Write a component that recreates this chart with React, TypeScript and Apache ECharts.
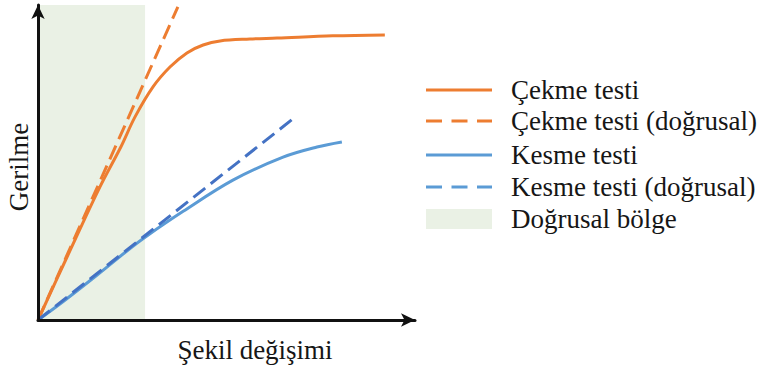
import React, { useEffect, useRef } from "react";
import * as echarts from "echarts";

const seriesNames = [
  "Çekme testi",
  "Çekme testi (doğrusal)",
  "Kesme testi",
  "Kesme testi (doğrusal)",
];
const areaName = "Doğrusal bölge";
const xAxisName = "Şekil değişimi";
const yAxisName = "Gerilme";

const tensile: [number, number][] = [
  [0, 0], [0.77, 2.0], [1.64, 4.22], [2.2, 5.5], [2.57, 6.44], [3.05, 7.4], [3.5, 8.03],
  [3.95, 8.48], [4.38, 8.73], [4.83, 8.86], [5.62, 8.92], [6.34, 8.95], [7.82, 9.02], [9.2, 9.05],
];
const tensileLinear: [number, number][] = [[0, 0], [3.71, 9.94]];
const shear: [number, number][] = [
  [0, 0], [0.66, 0.58], [1.56, 1.42], [2.44, 2.27], [2.84, 2.63], [3.85, 3.45], [5.17, 4.44],
  [6.5, 5.17], [7.4, 5.49], [8.06, 5.65],
];
const shearLinear: [number, number][] = [[0, 0], [6.82, 6.44]];
const linearRegion: [number, number] = [0, 2.84];

const colors = ["#ED7D31", "#ED7D31", "#5B9BD5", "#4472C4"];
const dashed = [false, true, false, true];
const FONT = "'Liberation Serif', 'Times New Roman', serif";

export default function App() {
  const ref = useRef<HTMLDivElement>(null);
  useEffect(() => {
    document.body.style.margin = "0";
    const chart = echarts.init(ref.current!, null, { renderer: "svg" });
    const datas = [tensile, tensileLinear, shear, shearLinear];
    const series: any[] = datas.map((d, i) => ({
      name: seriesNames[i],
      type: "line",
      data: d,
      smooth: i === 0 || i === 2 ? 0.35 : false,
      symbol: "none",
      z: i === 1 || i === 3 ? 3 : 2,
      lineStyle: {
        color: colors[i],
        width: 3,
        type: dashed[i] ? [15, 7] : "solid",
      },
      ...(i === 0
        ? {
            markArea: {
              silent: true,
              itemStyle: { color: "#EAF1E5" },
              data: [[{ xAxis: linearRegion[0] }, { xAxis: linearRegion[1] }]],
            },
          }
        : {}),
    }));

    const legendX = 426;
    const legendRows = [90, 121, 155, 187, 219];
    const textStyle = (t: string, size: number, extra: any = {}) => ({
      text: t,
      fontFamily: FONT,
      fontSize: size,
      fill: "#161616",
      verticalAlign: "middle",
      ...extra,
    });
    const graphics: any[] = [];
    seriesNames.forEach((n, i) => {
      graphics.push({
        type: "line",
        shape: { x1: legendX, y1: legendRows[i], x2: legendX + 66, y2: legendRows[i] },
        style: {
          stroke: colors[i === 3 ? 2 : i],
          lineWidth: 3,
          lineDash: dashed[i] ? [16, 9.5] : null,
        },
      });
      graphics.push({ type: "text", x: 511, y: legendRows[i], style: textStyle(n, 27) });
    });
    graphics.push({
      type: "rect",
      shape: { x: legendX, y: 209, width: 66, height: 20 },
      style: { fill: "#EAF1E5" },
    });
    graphics.push({ type: "text", x: 511, y: legendRows[4], style: textStyle(areaName, 27) });
    graphics.push({
      type: "text",
      x: 255,
      y: 350,
      style: textStyle(xAxisName, 27, { align: "center" }),
    });
    graphics.push({
      type: "text",
      x: 19,
      y: 167,
      rotation: Math.PI / 2,
      style: textStyle(yAxisName, 27, { align: "center" }),
    });

    chart.setOption({
      animation: false,
      grid: { left: 38, top: 5, right: 349, bottom: 49 },
      xAxis: {
        type: "value",
        min: 0,
        max: 10,
        splitLine: { show: false },
        axisTick: { show: false },
        axisLabel: { show: false },
        axisLine: { lineStyle: { color: "#111", width: 3 }, symbol: ["none", "arrow"], symbolSize: [10, 14] },
        z: 10,
      },
      yAxis: {
        type: "value",
        min: 0,
        max: 10,
        splitLine: { show: false },
        axisTick: { show: false },
        axisLabel: { show: false },
        axisLine: { lineStyle: { color: "#111", width: 3 }, symbol: ["none", "arrow"], symbolSize: [10, 14] },
        z: 10,
      },
      series,
      graphic: graphics,
    });
    return () => chart.dispose();
  }, []);
  return <div ref={ref} style={{ width: 764, height: 369 }} />;
}
